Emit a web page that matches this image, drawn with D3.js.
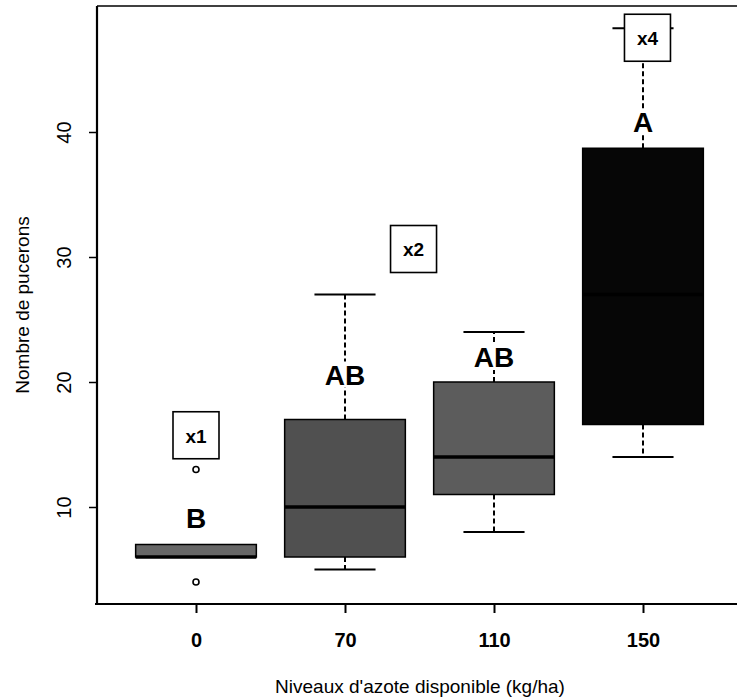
<!DOCTYPE html>
<html>
<head>
<meta charset="utf-8">
<script src="https://cdn.jsdelivr.net/npm/d3@7"></script>
<style>
  body { margin: 0; background: #fff; }
  svg { display: block; font-family: 'Liberation Sans', Arial, sans-serif; }
</style>
</head>
<body>
<svg width="737" height="699"></svg>
<script>
// data
const categories = ['0', '70', '110', '150'];
const whiskerLow = [6, 5, 8, 14];
const q1 = [6, 6, 11, 16.6];
const medians = [6, 10, 14, 27];
const q3 = [7, 17, 20, 38.7];
const whiskerHigh = [7, 27, 24, 48.3];
const outliers = [[4, 13], [], [], []];
const letters = ['B', 'AB', 'AB', 'A'];
const letterAt = [9.1, 20.6, 22, 40.8];
const factors = ['x1', 'x2', '', 'x4'];
const factorAt = [15.7, 30.6, null, 47.5];
const factorShift = [0, 0.46, 0, 0.03];
const yTicks = [10, 20, 30, 40];

const boxColors = ['#676767', '#505050', '#5c5c5c', '#060606'];

const boxes = categories.map((c, i) => ({
  cat: c,
  lo: whiskerLow[i],
  q1: q1[i],
  med: medians[i],
  q3: q3[i],
  hi: whiskerHigh[i],
  out: outliers[i],
  color: boxColors[i],
}));

const svg = d3.select('svg');

const x = d3.scalePoint().domain(categories).range([196, 643]);
const y = d3.scaleLinear().domain([0, 50]).range([632, 7]);
const step = x.step();
const boxW = step * 0.81;
const capW = step * 0.41;

const LEFT = 97;
const TOP = 6;
const BOTTOM = 604;
const RIGHT = 740;

// whiskers (dashed) under everything
const g = svg.append('g');

g.selectAll('.whisk-hi')
  .data(boxes.filter((d) => d.hi > d.q3))
  .enter()
  .append('line')
  .attr('x1', (d) => x(d.cat))
  .attr('x2', (d) => x(d.cat))
  .attr('y1', (d) => y(d.q3))
  .attr('y2', (d) => y(d.hi))
  .attr('stroke', '#000')
  .attr('stroke-width', 2)
  .attr('stroke-dasharray', '5,3');

g.selectAll('.whisk-lo')
  .data(boxes.filter((d) => d.lo < d.q1))
  .enter()
  .append('line')
  .attr('x1', (d) => x(d.cat))
  .attr('x2', (d) => x(d.cat))
  .attr('y1', (d) => y(d.q1))
  .attr('y2', (d) => y(d.lo))
  .attr('stroke', '#000')
  .attr('stroke-width', 2)
  .attr('stroke-dasharray', '5,3');

const caps = boxes.flatMap((d) => {
  const out = [];
  if (d.hi > d.q3) out.push({ cat: d.cat, v: d.hi });
  if (d.lo < d.q1) out.push({ cat: d.cat, v: d.lo });
  return out;
});

g.selectAll('.cap')
  .data(caps)
  .enter()
  .append('line')
  .attr('x1', (d) => x(d.cat) - capW / 2)
  .attr('x2', (d) => x(d.cat) + capW / 2)
  .attr('y1', (d) => y(d.v))
  .attr('y2', (d) => y(d.v))
  .attr('stroke', '#000')
  .attr('stroke-width', 2);

g.selectAll('.box')
  .data(boxes)
  .enter()
  .append('rect')
  .attr('x', (d) => x(d.cat) - boxW / 2)
  .attr('width', boxW)
  .attr('y', (d) => y(d.q3))
  .attr('height', (d) => y(d.q1) - y(d.q3))
  .attr('fill', (d) => d.color)
  .attr('stroke', '#000')
  .attr('stroke-width', 1.5);

g.selectAll('.median')
  .data(boxes)
  .enter()
  .append('line')
  .attr('x1', (d) => x(d.cat) - boxW / 2)
  .attr('x2', (d) => x(d.cat) + boxW / 2)
  .attr('y1', (d) => y(d.med))
  .attr('y2', (d) => y(d.med))
  .attr('stroke', '#000')
  .attr('stroke-width', 3.5);

g.selectAll('.outlier')
  .data(boxes.flatMap((d) => d.out.map((v) => ({ cat: d.cat, v }))))
  .enter()
  .append('circle')
  .attr('cx', (d) => x(d.cat))
  .attr('cy', (d) => y(d.v))
  .attr('r', 3)
  .attr('fill', '#fff')
  .attr('stroke', '#000')
  .attr('stroke-width', 1.6);

// significance letters, on white so they cut the whiskers
const letterG = g.selectAll('.letter')
  .data(categories.map((c, i) => ({ cat: c, text: letters[i], v: letterAt[i] })))
  .enter()
  .append('g')
  .attr('transform', (d) => `translate(${x(d.cat)},${y(d.v)})`);

letterG.append('rect')
  .attr('x', (d) => -d.text.length * 11 - 2)
  .attr('width', (d) => d.text.length * 22 + 4)
  .attr('y', -13)
  .attr('height', 26)
  .attr('fill', '#fff');

letterG.append('text')
  .text((d) => d.text)
  .attr('text-anchor', 'middle')
  .attr('dy', '0.36em')
  .attr('font-size', 28)
  .attr('font-weight', 'bold')
  .attr('fill', '#000');

// factor boxes
const factorG = g.selectAll('.factor')
  .data(categories
    .map((c, i) => ({ cat: c, text: factors[i], v: factorAt[i], shift: factorShift[i] }))
    .filter((d) => d.text))
  .enter()
  .append('g')
  .attr('transform', (d) => `translate(${x(d.cat) + d.shift * step},${y(d.v)})`);

factorG.append('rect')
  .attr('x', -23)
  .attr('y', -24)
  .attr('width', 46)
  .attr('height', 47)
  .attr('fill', '#fff')
  .attr('stroke', '#000')
  .attr('stroke-width', 1.6);

factorG.append('text')
  .text((d) => d.text)
  .attr('text-anchor', 'middle')
  .attr('dy', '0.36em')
  .attr('font-size', 19)
  .attr('font-weight', 'bold')
  .attr('fill', '#000');

// frame lines
svg.append('line')
  .attr('x1', LEFT).attr('x2', LEFT)
  .attr('y1', TOP).attr('y2', BOTTOM + 1)
  .attr('stroke', '#000').attr('stroke-width', 2.2);
svg.append('line')
  .attr('x1', LEFT).attr('x2', RIGHT)
  .attr('y1', TOP).attr('y2', TOP)
  .attr('stroke', '#000').attr('stroke-width', 1.5);
svg.append('line')
  .attr('x1', LEFT - 2).attr('x2', RIGHT)
  .attr('y1', BOTTOM).attr('y2', BOTTOM)
  .attr('stroke', '#000').attr('stroke-width', 2);

// axes
const xAxis = svg.append('g')
  .attr('transform', `translate(0, ${BOTTOM})`)
  .call(d3.axisBottom(x).tickSize(9).tickSizeOuter(0));
xAxis.select('.domain').remove();
xAxis.selectAll('line').attr('stroke-width', 2);
xAxis.selectAll('text')
  .attr('y', 36)
  .attr('dy', '0.35em')
  .attr('font-size', 20)
  .attr('font-weight', 'bold')
  .attr('font-family', "'Liberation Sans', Arial, sans-serif")
  .attr('fill', '#000');

const yAxis = svg.append('g')
  .attr('transform', `translate(${LEFT}, 0)`)
  .call(d3.axisLeft(y).tickValues(yTicks).tickSize(8));
yAxis.select('.domain').remove();
yAxis.selectAll('line').attr('stroke-width', 1.5);
yAxis.selectAll('text')
  .attr('x', 0)
  .attr('dy', null)
  .attr('transform', 'translate(-33,0) rotate(-90)')
  .attr('text-anchor', 'middle')
  .attr('dominant-baseline', 'central')
  .attr('font-size', 20)
  .attr('font-family', "'Liberation Sans', Arial, sans-serif")
  .attr('fill', '#000');

// axis titles
svg.append('text')
  .text('Nombre de pucerons')
  .attr('transform', `translate(22, ${(TOP + BOTTOM) / 2}) rotate(-90)`)
  .attr('text-anchor', 'middle')
  .attr('dominant-baseline', 'central')
  .attr('font-size', 19)
  .attr('fill', '#000');

svg.append('text')
  .text("Niveaux d'azote disponible (kg/ha)")
  .attr('x', 420)
  .attr('y', 686)
  .attr('text-anchor', 'middle')
  .attr('dominant-baseline', 'central')
  .attr('font-size', 19)
  .attr('fill', '#000');
</script>
</body>
</html>
